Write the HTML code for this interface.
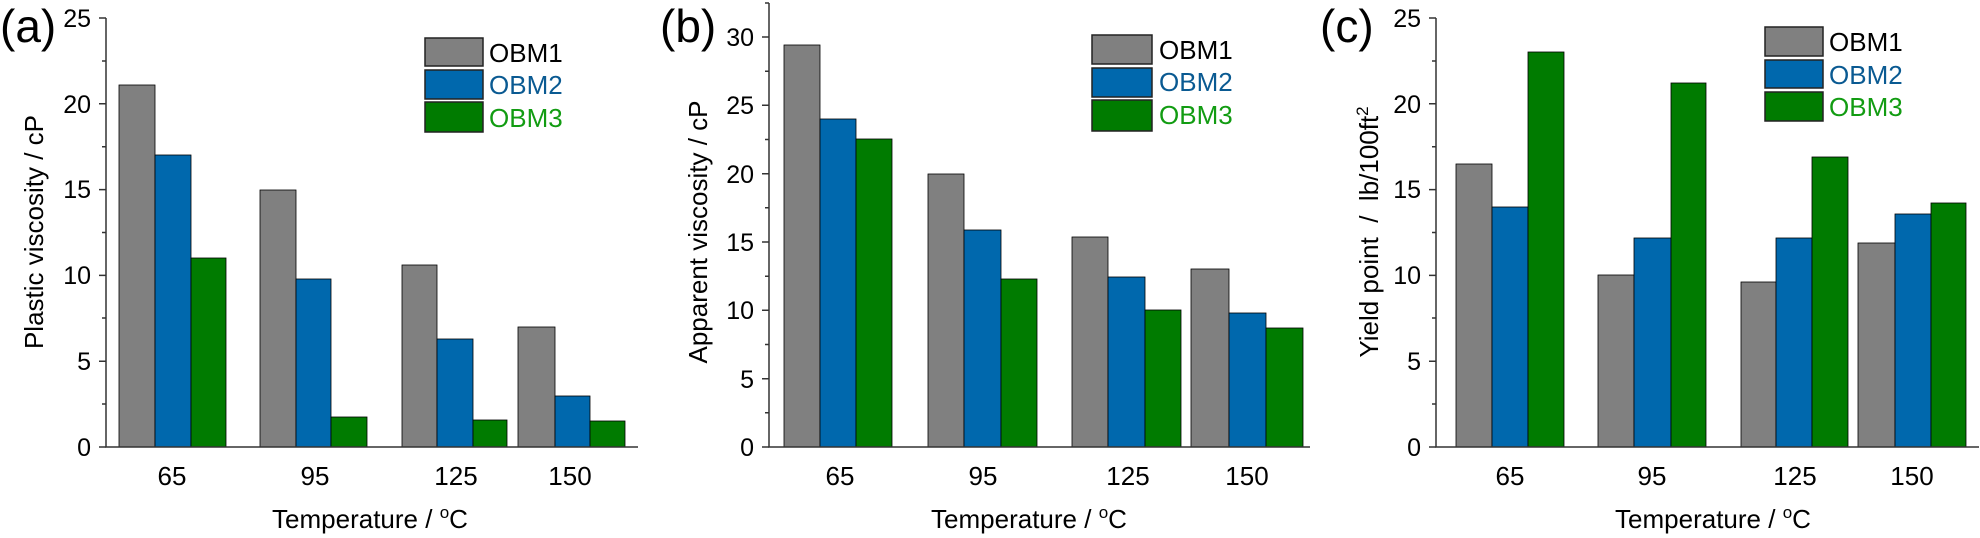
<!DOCTYPE html>
<html><head><meta charset="utf-8"><style>
html,body{margin:0;padding:0;background:#fff;}
svg{display:block;font-family:"Liberation Sans",Arial,sans-serif;}
</style></head><body>
<svg width="1980" height="538" viewBox="0 0 1980 538" xmlns="http://www.w3.org/2000/svg">
<g id="a">
<text x="0" y="42" font-size="46">(a)</text>
<g stroke="#000" stroke-width="0.8">
<rect x="119" y="85" width="36" height="362" fill="#808080"/>
<rect x="155" y="155" width="36" height="292" fill="#0068ad"/>
<rect x="191" y="258" width="35" height="189" fill="#007b00"/>
<rect x="260" y="190" width="36" height="257" fill="#808080"/>
<rect x="296" y="279" width="35" height="168" fill="#0068ad"/>
<rect x="331" y="417" width="36" height="30" fill="#007b00"/>
<rect x="402" y="265" width="35" height="182" fill="#808080"/>
<rect x="437" y="339" width="36" height="108" fill="#0068ad"/>
<rect x="473" y="420" width="34" height="27" fill="#007b00"/>
<rect x="518" y="327" width="37" height="120" fill="#808080"/>
<rect x="555" y="396" width="35" height="51" fill="#0068ad"/>
<rect x="590" y="421" width="35" height="26" fill="#007b00"/>
</g>
<g stroke="#333" stroke-width="1.5" fill="none">
<path d="M106 18V447H638"/>
<path d="M99 447H106M99 361.2H106M99 275.4H106M99 189.6H106M99 103.8H106M99 18H106"/>
<path d="M102 404H106M102 318H106M102 232.5H106M102 146.7H106M102 61H106"/>
</g>
<g font-size="25" text-anchor="end">
<text x="91" y="456">0</text><text x="91" y="370">5</text><text x="91" y="284">10</text><text x="91" y="198">15</text><text x="91" y="113">20</text><text x="91" y="27">25</text>
</g>
<g font-size="26" text-anchor="middle">
<text x="172" y="485">65</text><text x="315" y="485">95</text><text x="456" y="485">125</text><text x="570" y="485">150</text>
<text x="370" y="528">Temperature / <tspan dy="-10" font-size="17">o</tspan><tspan dy="10">C</tspan></text>
<text transform="translate(43,232) rotate(-90)">Plastic viscosity / cP</text>
</g>
<g stroke="#222" stroke-width="1.5">
<rect x="425" y="38" width="58" height="28" fill="#808080"/>
<rect x="425" y="70" width="58" height="29" fill="#0068ad"/>
<rect x="425" y="102" width="58" height="30" fill="#007b00"/>
</g>
<g font-size="26"><text x="489" y="62" fill="#000">OBM1</text><text x="489" y="94" fill="#0a5a92">OBM2</text><text x="489" y="127" fill="#129c12">OBM3</text></g>
</g>

<g id="b">
<text x="660" y="42" font-size="46">(b)</text>
<g stroke="#000" stroke-width="0.8">
<rect x="784" y="45" width="36" height="402" fill="#808080"/>
<rect x="820" y="119" width="36" height="328" fill="#0068ad"/>
<rect x="856" y="139" width="36" height="308" fill="#007b00"/>
<rect x="928" y="174" width="36" height="273" fill="#808080"/>
<rect x="964" y="230" width="37" height="217" fill="#0068ad"/>
<rect x="1001" y="279" width="36" height="168" fill="#007b00"/>
<rect x="1072" y="237" width="36" height="210" fill="#808080"/>
<rect x="1108" y="277" width="37" height="170" fill="#0068ad"/>
<rect x="1145" y="310" width="36" height="137" fill="#007b00"/>
<rect x="1191" y="269" width="38" height="178" fill="#808080"/>
<rect x="1229" y="313" width="37" height="134" fill="#0068ad"/>
<rect x="1266" y="328" width="37" height="119" fill="#007b00"/>
</g>
<g stroke="#333" stroke-width="1.5" fill="none">
<path d="M769 3V447H1310"/>
<path d="M762 447H769M762 378.7H769M762 310.3H769M762 242H769M762 173.7H769M762 105.3H769M762 37H769"/>
<path d="M765 412.8H769M765 344.5H769M765 276.2H769M765 207.8H769M765 139.5H769M765 71.2H769M765 3H769"/>
</g>
<g font-size="25" text-anchor="end">
<text x="754" y="456">0</text><text x="754" y="388">5</text><text x="754" y="319">10</text><text x="754" y="251">15</text><text x="754" y="183">20</text><text x="754" y="114">25</text><text x="754" y="46">30</text>
</g>
<g font-size="26" text-anchor="middle">
<text x="840" y="485">65</text><text x="983" y="485">95</text><text x="1128" y="485">125</text><text x="1247" y="485">150</text>
<text x="1029" y="528">Temperature / <tspan dy="-10" font-size="17">o</tspan><tspan dy="10">C</tspan></text>
<text transform="translate(707,232) rotate(-90)">Apparent viscosity / cP</text>
</g>
<g stroke="#222" stroke-width="1.5">
<rect x="1092" y="35" width="60" height="29" fill="#808080"/>
<rect x="1092" y="68" width="60" height="29" fill="#0068ad"/>
<rect x="1092" y="100" width="60" height="31" fill="#007b00"/>
</g>
<g font-size="26"><text x="1159" y="59" fill="#000">OBM1</text><text x="1159" y="91" fill="#0a5a92">OBM2</text><text x="1159" y="124" fill="#129c12">OBM3</text></g>
</g>

<g id="c">
<text x="1320" y="42" font-size="46">(c)</text>
<g stroke="#000" stroke-width="0.8">
<rect x="1456" y="164" width="36" height="283" fill="#808080"/>
<rect x="1492" y="207" width="36" height="240" fill="#0068ad"/>
<rect x="1528" y="52" width="36" height="395" fill="#007b00"/>
<rect x="1598" y="275" width="36" height="172" fill="#808080"/>
<rect x="1634" y="238" width="37" height="209" fill="#0068ad"/>
<rect x="1671" y="83" width="35" height="364" fill="#007b00"/>
<rect x="1741" y="282" width="35" height="165" fill="#808080"/>
<rect x="1776" y="238" width="36" height="209" fill="#0068ad"/>
<rect x="1812" y="157" width="36" height="290" fill="#007b00"/>
<rect x="1858" y="243" width="37" height="204" fill="#808080"/>
<rect x="1895" y="214" width="36" height="233" fill="#0068ad"/>
<rect x="1931" y="203" width="35" height="244" fill="#007b00"/>
</g>
<g stroke="#333" stroke-width="1.5" fill="none">
<path d="M1436 18V447H1979"/>
<path d="M1429 447H1436M1429 361.2H1436M1429 275.4H1436M1429 189.6H1436M1429 103.8H1436M1429 18H1436"/>
<path d="M1432 404H1436M1432 318H1436M1432 232.5H1436M1432 146.7H1436M1432 61H1436"/>
</g>
<g font-size="25" text-anchor="end">
<text x="1421" y="456">0</text><text x="1421" y="370">5</text><text x="1421" y="284">10</text><text x="1421" y="198">15</text><text x="1421" y="113">20</text><text x="1421" y="27">25</text>
</g>
<g font-size="26" text-anchor="middle">
<text x="1510" y="485">65</text><text x="1652" y="485">95</text><text x="1795" y="485">125</text><text x="1912" y="485">150</text>
<text x="1713" y="528">Temperature / <tspan dy="-10" font-size="17">o</tspan><tspan dy="10">C</tspan></text>
<text transform="translate(1378,232) rotate(-90)" xml:space="preserve">Yield point  /  lb/100ft<tspan dy="-10" font-size="17">2</tspan></text>
</g>
<g stroke="#222" stroke-width="1.5">
<rect x="1765" y="27" width="58" height="29" fill="#808080"/>
<rect x="1765" y="60" width="58" height="28" fill="#0068ad"/>
<rect x="1765" y="92" width="58" height="29" fill="#007b00"/>
</g>
<g font-size="26"><text x="1829" y="51" fill="#000">OBM1</text><text x="1829" y="84" fill="#0a5a92">OBM2</text><text x="1829" y="116" fill="#129c12">OBM3</text></g>
</g>
</svg>
</body></html>
